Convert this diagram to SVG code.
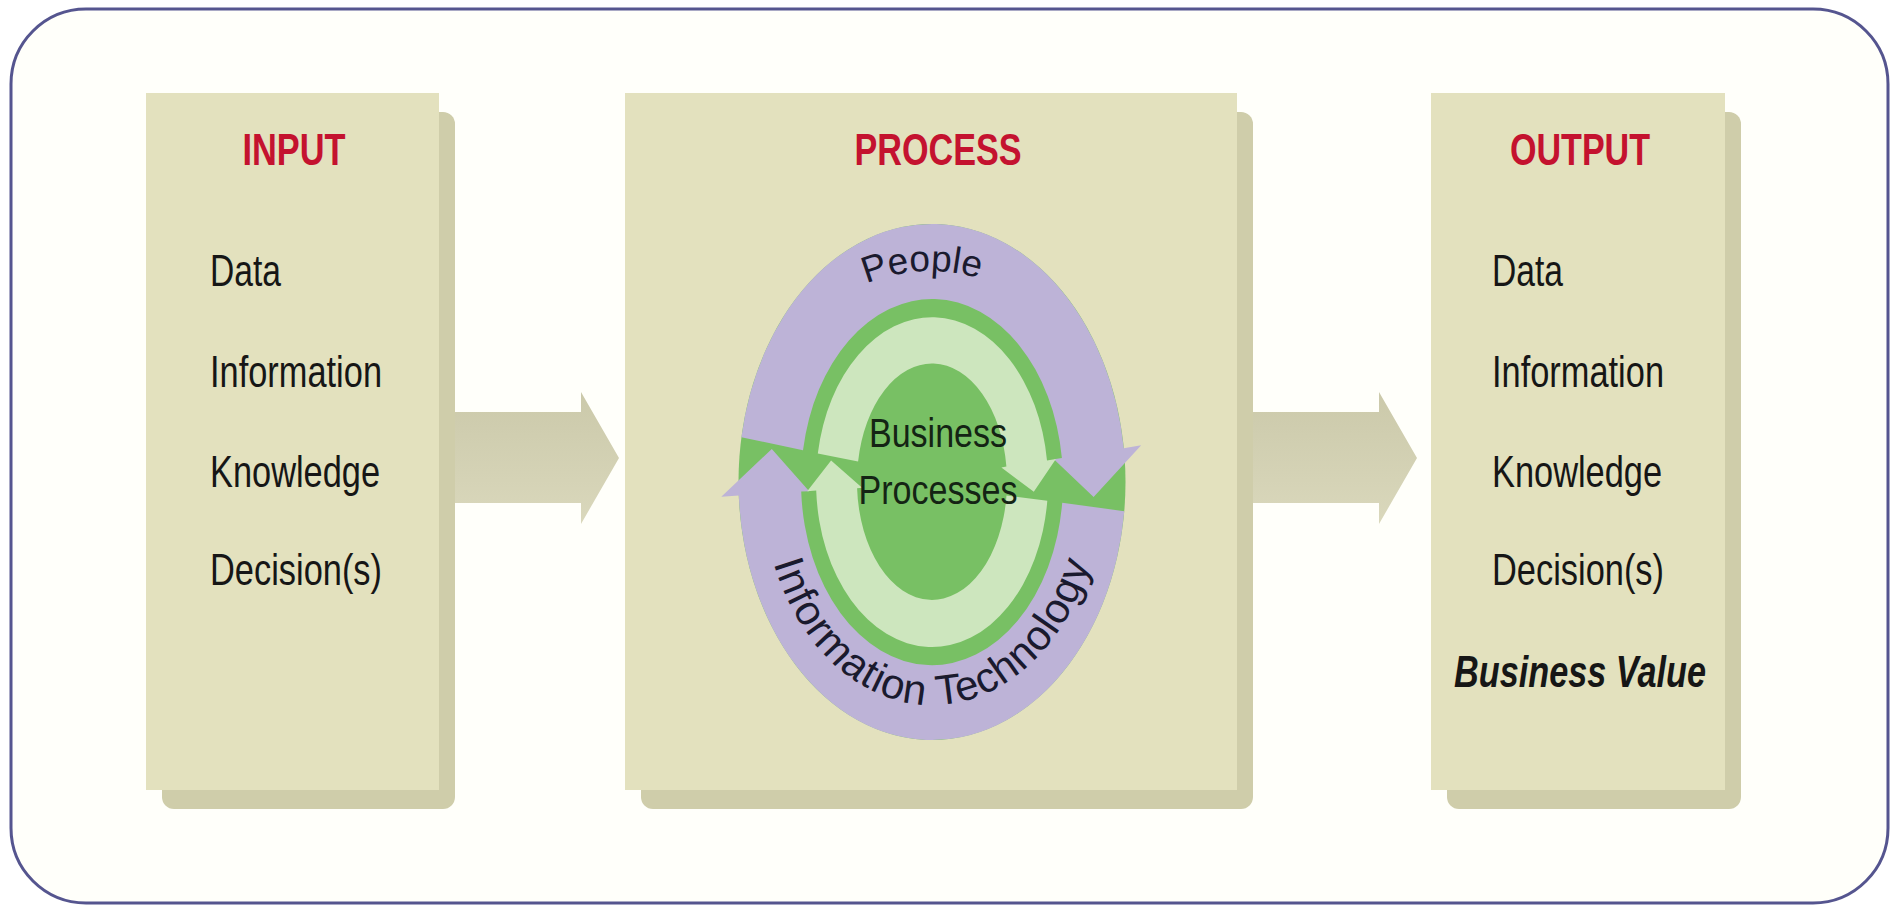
<svg xmlns="http://www.w3.org/2000/svg" width="1902" height="907" viewBox="0 0 1902 907">
  <defs>
    <linearGradient id="arrowGrad" x1="0" y1="0" x2="0" y2="1">
      <stop offset="0" stop-color="#cbc9aa"/>
      <stop offset="1" stop-color="#dad8bc"/>
    </linearGradient>
    <path id="peoplePath" d="M 765 436 A 165 165 0 0 1 1095 436"/>
    <path id="itPath" d="M 762 482 A 170 223 0 0 0 1102 482"/>
  </defs>
  <style>
    .frame { fill: #fffffa; stroke: #55558f; stroke-width: 3; }
    .box { fill: #e3e1be; }
    .shadow { fill: #cfcdaa; }
    .arrow { fill: url(#arrowGrad); }
    .title { font-family: "Liberation Sans", Arial, sans-serif; font-weight: bold; font-size: 44px; fill: #c4122f; text-anchor: middle; }
    .item { font-family: "Liberation Sans", Arial, sans-serif; font-size: 44px; fill: #161616; }
    .bv { font-family: "Liberation Sans", Arial, sans-serif; font-size: 44px; font-weight: bold; font-style: italic; fill: #161616; }
    .center { font-family: "Liberation Sans", Arial, sans-serif; font-size: 40px; fill: #142414; text-anchor: middle; }
    .ring { font-family: "Liberation Sans", Arial, sans-serif; fill: #1a1a2e; }
    .purple { fill: #bdb3d7; }
    .lgreen { fill: #cde6be; }
    .mgreen { fill: #78c064; }
  </style>

  <rect class="frame" x="11" y="9" width="1877" height="894" rx="75" ry="75"/>

  <g id="connectors">
    <polygon class="arrow" points="440,412 581,412 581,392 619,458 581,524 581,503 440,503"/>
    <polygon class="arrow" points="1240,412 1379,412 1379,392 1417,458 1379,524 1379,503 1240,503"/>
  </g>

  <g id="input">
    <rect class="shadow" x="162" y="112" width="293" height="697" rx="12"/>
    <rect class="box" x="146" y="93" width="293" height="697"/>
    <text class="title" x="294" y="165" textLength="103" lengthAdjust="spacingAndGlyphs">INPUT</text>
    <text class="item" x="210" y="286" textLength="71" lengthAdjust="spacingAndGlyphs">Data</text>
    <text class="item" x="210" y="387" textLength="172" lengthAdjust="spacingAndGlyphs">Information</text>
    <text class="item" x="210" y="487" textLength="170" lengthAdjust="spacingAndGlyphs">Knowledge</text>
    <text class="item" x="210" y="585" textLength="172" lengthAdjust="spacingAndGlyphs">Decision(s)</text>
  </g>

  <g id="process">
    <rect class="shadow" x="641" y="112" width="612" height="697" rx="12"/>
    <rect class="box" x="625" y="93" width="612" height="697"/>
    <text class="title" x="938" y="165" textLength="167" lengthAdjust="spacingAndGlyphs">PROCESS</text>
    <g id="cycle">
      <ellipse class="mgreen" cx="932" cy="482" rx="193.5" ry="258"/>
      <path class="purple" d="M 741.4 437.2 A 193.5 258 0 0 1 1123.8 448.3 L 1141.2 445.3 L 1093.6 497 L 1053.9 459.2 L 1061.9 458.1 A 131 183 0 0 0 803 450.2 Z"/>
      <path class="purple" d="M 1124.3 511.2 A 193.5 258 0 0 1 738.8 495.5 L 721.3 496.7 L 771.8 449 L 809.2 491.2 L 801.2 491.6 A 131 183 0 0 0 1062.2 502.7 Z"/>
      <path class="lgreen" d="M 817.8 453.4 A 116 165 0 0 1 1047 460.5 L 1055.9 458.9 L 1033.8 491.7 L 1001.4 467.5 L 1006.4 466.6 A 75 118 0 0 0 858.1 461.5 Z"/>
      <path class="lgreen" d="M 1047.3 500.7 A 116 165 0 0 1 816.2 490.6 L 807.2 491.3 L 831.1 460.6 L 862.1 487.8 L 857.1 488.2 A 75 118 0 0 0 1006.5 495.4 Z"/>
      <text class="ring" font-size="37"><textPath href="#peoplePath" startOffset="48.5%" text-anchor="middle">People</textPath></text>
      <text class="ring" font-size="42" letter-spacing="1"><textPath href="#itPath" startOffset="50%" text-anchor="middle">Information Technology</textPath></text>
      <text class="center" x="938" y="447" textLength="138" lengthAdjust="spacingAndGlyphs">Business</text>
      <text class="center" x="938" y="504" textLength="159" lengthAdjust="spacingAndGlyphs">Processes</text>
    </g>
  </g>

  <g id="output">
    <rect class="shadow" x="1447" y="112" width="294" height="697" rx="12"/>
    <rect class="box" x="1431" y="93" width="294" height="697"/>
    <text class="title" x="1580" y="165" textLength="140" lengthAdjust="spacingAndGlyphs">OUTPUT</text>
    <text class="item" x="1492" y="286" textLength="71" lengthAdjust="spacingAndGlyphs">Data</text>
    <text class="item" x="1492" y="387" textLength="172" lengthAdjust="spacingAndGlyphs">Information</text>
    <text class="item" x="1492" y="487" textLength="170" lengthAdjust="spacingAndGlyphs">Knowledge</text>
    <text class="item" x="1492" y="585" textLength="172" lengthAdjust="spacingAndGlyphs">Decision(s)</text>
    <text class="bv" x="1454" y="687" textLength="252" lengthAdjust="spacingAndGlyphs">Business Value</text>
  </g>
</svg>
